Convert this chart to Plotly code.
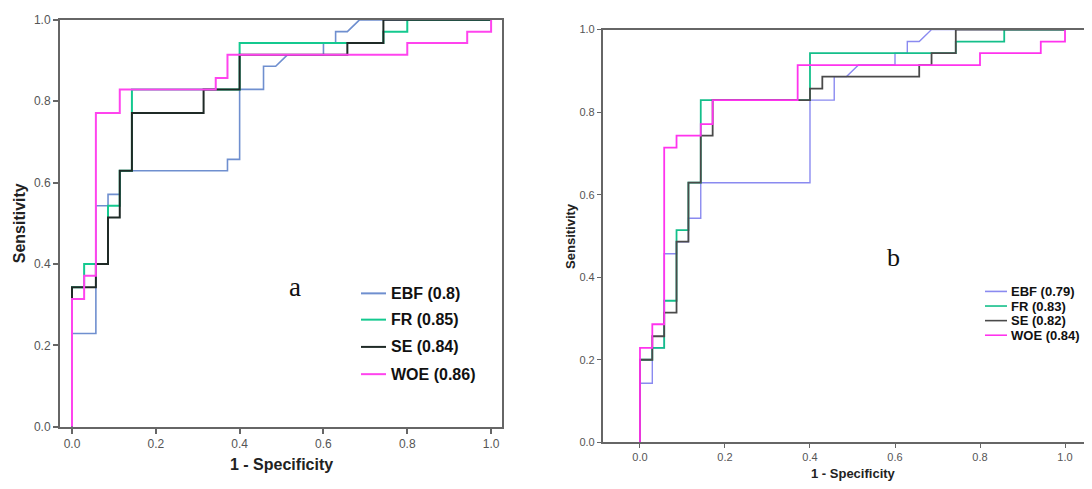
import plotly.graph_objects as go

W, H = 1092, 489
OFF = 8  # page body margin in the browser

# ---------------- data ----------------
models = ["EBF", "FR", "SE", "WOE"]
auc_a = ["0.8", "0.85", "0.84", "0.86"]
auc_b = ["0.79", "0.83", "0.82", "0.84"]

# panel a
a_EBF_x = [0, 0, 0.057, 0.057, 0.086, 0.086, 0.114, 0.114, 0.371, 0.371, 0.4, 0.4, 0.457, 0.457, 0.486, 0.514, 0.6, 0.6, 0.629, 0.629, 0.657, 0.686, 1.0]
a_EBF_y = [0, 0.229, 0.229, 0.543, 0.543, 0.571, 0.571, 0.629, 0.629, 0.657, 0.657, 0.829, 0.829, 0.886, 0.886, 0.914, 0.914, 0.943, 0.943, 0.971, 0.971, 1.0, 1.0]
a_FR_x = [0, 0, 0.029, 0.029, 0.086, 0.086, 0.114, 0.114, 0.143, 0.143, 0.4, 0.4, 0.743, 0.743, 0.8, 0.8, 1.0]
a_FR_y = [0, 0.343, 0.343, 0.4, 0.4, 0.543, 0.543, 0.629, 0.629, 0.829, 0.829, 0.943, 0.943, 0.971, 0.971, 1.0, 1.0]
a_SE_x = [0, 0, 0.057, 0.057, 0.086, 0.086, 0.114, 0.114, 0.143, 0.143, 0.314, 0.314, 0.4, 0.4, 0.657, 0.657, 0.743, 0.743, 1.0]
a_SE_y = [0, 0.343, 0.343, 0.4, 0.4, 0.514, 0.514, 0.629, 0.629, 0.771, 0.771, 0.829, 0.829, 0.914, 0.914, 0.943, 0.943, 1.0, 1.0]
a_WOE_x = [0, 0, 0.029, 0.029, 0.057, 0.057, 0.114, 0.114, 0.343, 0.343, 0.371, 0.371, 0.8, 0.8, 0.943, 0.943, 1.0, 1.0]
a_WOE_y = [0, 0.314, 0.314, 0.371, 0.371, 0.771, 0.771, 0.829, 0.829, 0.857, 0.857, 0.914, 0.914, 0.943, 0.943, 0.971, 0.971, 1.0]

# panel b
b_EBF_x = [0, 0, 0.029, 0.029, 0.057, 0.057, 0.086, 0.086, 0.114, 0.114, 0.143, 0.143, 0.4, 0.4, 0.457, 0.457, 0.486, 0.514, 0.6, 0.6, 0.629, 0.629, 0.657, 0.686, 1.0]
b_EBF_y = [0, 0.143, 0.143, 0.229, 0.229, 0.457, 0.457, 0.486, 0.486, 0.543, 0.543, 0.629, 0.629, 0.829, 0.829, 0.886, 0.886, 0.914, 0.914, 0.943, 0.943, 0.971, 0.971, 1.0, 1.0]
b_FR_x = [0, 0, 0.029, 0.029, 0.057, 0.057, 0.086, 0.086, 0.114, 0.114, 0.143, 0.143, 0.4, 0.4, 0.743, 0.743, 0.857, 0.857, 1.0]
b_FR_y = [0, 0.2, 0.2, 0.229, 0.229, 0.343, 0.343, 0.514, 0.514, 0.629, 0.629, 0.829, 0.829, 0.943, 0.943, 0.971, 0.971, 1.0, 1.0]
b_SE_x = [0, 0, 0.029, 0.029, 0.057, 0.057, 0.086, 0.086, 0.114, 0.114, 0.143, 0.143, 0.171, 0.171, 0.4, 0.4, 0.429, 0.429, 0.657, 0.657, 0.686, 0.686, 0.743, 0.743, 1.0]
b_SE_y = [0, 0.2, 0.2, 0.257, 0.257, 0.314, 0.314, 0.486, 0.486, 0.629, 0.629, 0.743, 0.743, 0.829, 0.829, 0.857, 0.857, 0.886, 0.886, 0.914, 0.914, 0.943, 0.943, 1.0, 1.0]
b_WOE_x = [0, 0, 0.029, 0.029, 0.057, 0.057, 0.086, 0.086, 0.143, 0.143, 0.171, 0.171, 0.371, 0.371, 0.8, 0.8, 0.943, 0.943, 1.0, 1.0]
b_WOE_y = [0, 0.229, 0.229, 0.286, 0.286, 0.714, 0.714, 0.743, 0.743, 0.771, 0.771, 0.829, 0.829, 0.914, 0.914, 0.943, 0.943, 0.971, 0.971, 1.0]

tick_vals = [0.0, 0.2, 0.4, 0.6, 0.8, 1.0]
tick_text = ["0.0", "0.2", "0.4", "0.6", "0.8", "1.0"]

colors_a = ["#6f8fcf", "#14c98f", "#1f2a26", "#ff44ee"]
colors_b = ["#8a8af0", "#14bf8a", "#4a4a4a", "#ff33ee"]
widths_a = [1.6, 2.0, 2.0, 2.0]
widths_b = [1.4, 1.8, 1.8, 1.8]

series_a = [(a_EBF_x, a_EBF_y), (a_FR_x, a_FR_y), (a_SE_x, a_SE_y), (a_WOE_x, a_WOE_y)]
series_b = [(b_EBF_x, b_EBF_y), (b_FR_x, b_FR_y), (b_SE_x, b_SE_y), (b_WOE_x, b_WOE_y)]


def px(x):
    """screen pixel x -> paper fraction"""
    return (x - OFF) / W


def py(y):
    """screen pixel y -> paper fraction"""
    return 1 - (y - OFF) / H


fig = go.Figure()
for i, (xs, ys) in enumerate(series_a):
    fig.add_trace(go.Scatter(x=xs, y=ys, mode="lines", name=f"{models[i]} ({auc_a[i]})",
                             line=dict(color=colors_a[i], width=widths_a[i]),
                             xaxis="x", yaxis="y", showlegend=False))
for i, (xs, ys) in enumerate(series_b):
    fig.add_trace(go.Scatter(x=xs, y=ys, mode="lines", name=f"{models[i]} ({auc_b[i]})",
                             line=dict(color=colors_b[i], width=widths_b[i]),
                             xaxis="x2", yaxis="y2", showlegend=False))

axcol = "#666666"
common = dict(showgrid=False, zeroline=False, showline=True, linecolor=axcol,
              ticks="outside", tickcolor=axcol, tickvals=tick_vals, ticktext=tick_text)

fig.update_layout(
    width=W, height=H, margin=dict(l=0, r=0, t=0, b=0),
    paper_bgcolor="white", plot_bgcolor="white",
    font=dict(family="Arial, Liberation Sans, sans-serif", color="#444444"),
    xaxis=dict(domain=[px(60), px(502)], range=[-0.0286, 1.026], anchor="y", mirror=True,
               linewidth=2, ticklen=5, tickwidth=1.5, tickfont=dict(size=12, color="#555555"), **common),
    yaxis=dict(domain=[py(432), py(14)], range=[0, 1], anchor="x", mirror=True,
               linewidth=2, ticklen=5, tickwidth=1.5, tickfont=dict(size=12, color="#555555"), **common),
    xaxis2=dict(domain=[px(603), px(1092)], range=[-0.087, 1.0635], anchor="y2", mirror=True,
                linewidth=1.8, ticklen=4, tickwidth=1.2, tickfont=dict(size=11, color="#555555"), **common),
    yaxis2=dict(domain=[py(448), py(24)], range=[0, 1], anchor="x2", mirror=False,
                linewidth=2.2, ticklen=4, tickwidth=1.2, tickfont=dict(size=11, color="#555555"), **common),
)

shapes = []
annotations = []

# axis titles
annotations.append(dict(x=px(281), y=py(471), xref="paper", yref="paper", text="<b>1 - Specificity</b>",
                        showarrow=False, font=dict(size=16, color="#222222"), xanchor="center", yanchor="middle"))
annotations.append(dict(x=px(19), y=py(223), xref="paper", yref="paper", text="<b>Sensitivity</b>",
                        showarrow=False, textangle=-90, font=dict(size=16, color="#222222"),
                        xanchor="center", yanchor="middle"))
annotations.append(dict(x=px(853), y=py(480), xref="paper", yref="paper", text="<b>1 - Specificity</b>",
                        showarrow=False, font=dict(size=13, color="#222222"), xanchor="center", yanchor="middle"))
annotations.append(dict(x=px(571), y=py(236), xref="paper", yref="paper", text="<b>Sensitivity</b>",
                        showarrow=False, textangle=-90, font=dict(size=13, color="#222222"),
                        xanchor="center", yanchor="middle"))

# panel letters
annotations.append(dict(x=px(295), y=py(288), xref="paper", yref="paper", text="a", showarrow=False,
                        font=dict(size=27, family="Liberation Serif, Times New Roman, serif", color="#111111"),
                        xanchor="center", yanchor="middle"))
annotations.append(dict(x=px(893), y=py(258), xref="paper", yref="paper", text="b", showarrow=False,
                        font=dict(size=26, family="Liberation Serif, Times New Roman, serif", color="#111111"),
                        xanchor="center", yanchor="middle"))

# legends
rows_a = [295, 322, 350, 378]
rows_b = [293, 308, 323, 338]
for i in range(4):
    shapes.append(dict(type="line", xref="paper", yref="paper", x0=px(361), x1=px(386),
                       y0=py(rows_a[i]), y1=py(rows_a[i]), line=dict(color=colors_a[i], width=2)))
    annotations.append(dict(x=px(389), y=py(rows_a[i]), xref="paper", yref="paper",
                            text=f"<b>{models[i]} ({auc_a[i]})</b>", showarrow=False,
                            font=dict(size=16, color="#111111"), xanchor="left", yanchor="middle"))
    shapes.append(dict(type="line", xref="paper", yref="paper", x0=px(985), x1=px(1007),
                       y0=py(rows_b[i]), y1=py(rows_b[i]), line=dict(color=colors_b[i], width=1.6)))
    annotations.append(dict(x=px(1009), y=py(rows_b[i]), xref="paper", yref="paper",
                            text=f"<b>{models[i]} ({auc_b[i]})</b>", showarrow=False,
                            font=dict(size=13, color="#111111"), xanchor="left", yanchor="middle"))

fig.update_layout(shapes=shapes, annotations=annotations)
fig.write_html("out.html")
